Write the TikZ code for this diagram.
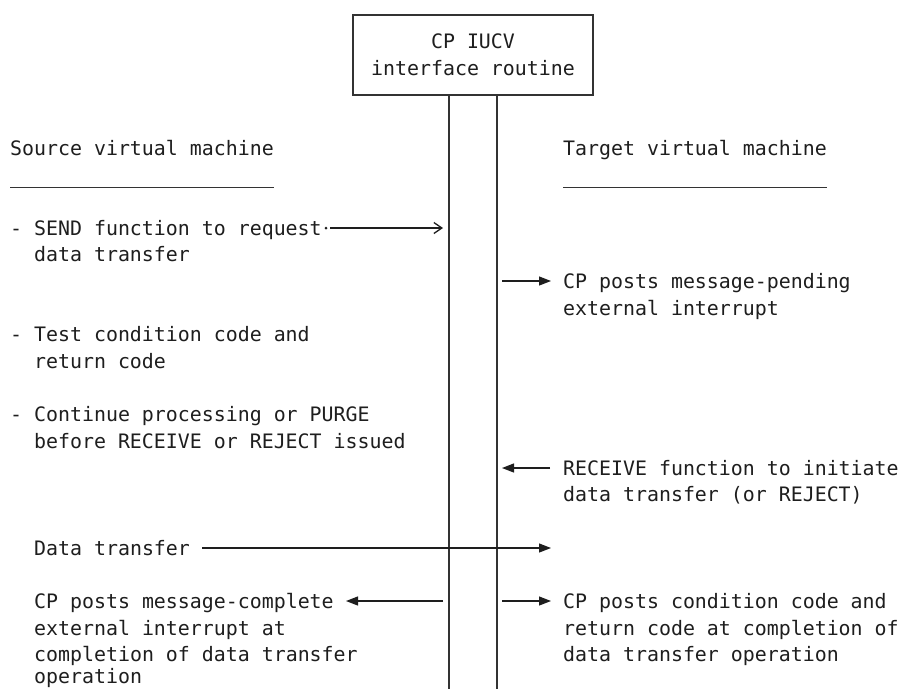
\documentclass[tikz,border=0pt]{standalone}
\usepackage{fontspec}
\setmonofont{DejaVu Sans Mono}
\usetikzlibrary{arrows.meta}
\definecolor{ink}{HTML}{1E1E1E}
\definecolor{wire}{HTML}{333333}
\begin{document}
\begin{tikzpicture}[x=1pt,y=-1pt,
  txt/.style={anchor=base west, inner sep=0pt, text=ink,
    font=\ttfamily\fontsize{19.9}{26.67}\selectfont},
  txtc/.style={txt, anchor=base},
  boxstyle/.style={draw=wire, line width=1.3pt, minimum width=240pt, minimum height=80pt, inner sep=0pt},
  lane/.style={draw=wire, line width=1.4pt},
  rule/.style={draw=wire, line width=1pt},
  conn/.style={draw=ink, line width=1.2pt},
  solidtip/.style={conn, -{Triangle[length=12pt,width=9pt]}},
  opentip/.style={conn, -{Straight Barb[length=8pt,width=11pt,line width=1.3pt]}}
]
\useasboundingbox (0,0) rectangle (900,689);
\fill[white] (0,0) rectangle (900,689);

% central box
\node[boxstyle] (box) at (473,55) {};
\node[txtc] (cp1) at (473,48.3) {CP IUCV};
\node[txtc] (cp2) at (473,75.3) {interface routine};

% vertical lanes
\coordinate (l1top) at (449,95);
\coordinate (l1bot) at (449,689);
\coordinate (l2top) at (497,95);
\coordinate (l2bot) at (497,689);
\draw[lane] (l1top) -- (l1bot);
\draw[lane] (l2top) -- (l2bot);
\coordinate (bar1) at (449,215);
\coordinate (bar2) at (449,242);
\draw[draw=wire, line width=2.4pt] (bar1) -- (bar2);

% headings
\node[txt] (src) at (10,155.3) {Source virtual machine};
\node[txt] (tgt) at (563,155.3) {Target virtual machine};
\coordinate (su1) at (10,187); \coordinate (su2) at (274,187);
\coordinate (tu1) at (563,187); \coordinate (tu2) at (827,187);
\draw[rule] (su1) -- (su2);
\draw[rule] (tu1) -- (tu2);

% left column
\node[txt] (a1) at (10,235.0) {- SEND function to request};
\node[txt] (a2) at (10,261.6) {\ \ data transfer};
\node[txt] (b1) at (10,341.6) {- Test condition code and};
\node[txt] (b2) at (10,368.3) {\ \ return code};
\node[txt] (c1) at (10,421.6) {- Continue processing or PURGE};
\node[txt] (c2) at (10,448.3) {\ \ before RECEIVE or REJECT issued};
\node[txt] (d1) at (34,555.0) {Data transfer};
\node[txt] (e1) at (34,608.3) {CP posts message-complete};
\node[txt] (e2) at (34,635.0) {external interrupt at};
\node[txt] (e3) at (34,661.6) {completion of data transfer};
\node[txt] (e4) at (34,683.8) {operation};

% right column
\node[txt] (f1) at (563,288.3) {CP posts message-pending};
\node[txt] (f2) at (563,315.0) {external interrupt};
\node[txt] (g1) at (563,475.0) {RECEIVE function to initiate};
\node[txt] (g2) at (563,501.6) {data transfer (or REJECT)};
\node[txt] (h1) at (563,608.3) {CP posts condition code and};
\node[txt] (h2) at (563,635.0) {return code at completion of};
\node[txt] (h3) at (563,661.6) {data transfer operation};

% connectors
\coordinate (senddot) at (326,228);
\coordinate (sendtail) at (330,228);
\coordinate (sendtip) at (443,228);
\fill[ink] (senddot) circle (1.5);
\draw[opentip] (sendtail) -- (sendtip);

\coordinate (pendtail) at (502,281);
\coordinate (pendtip) at (551,281);
\draw[solidtip] (pendtail) -- (pendtip);

\coordinate (rectail) at (550,468);
\coordinate (rectip) at (502,468);
\draw[solidtip] (rectail) -- (rectip);

\coordinate (dttail) at (202,548);
\coordinate (dttip) at (551,548);
\draw[solidtip] (dttail) -- (dttip);

\coordinate (mctail) at (443,601);
\coordinate (mctip) at (346,601);
\draw[solidtip] (mctail) -- (mctip);

\coordinate (cctail) at (502,601);
\coordinate (cctip) at (551,601);
\draw[solidtip] (cctail) -- (cctip);
\end{tikzpicture}
\end{document}
